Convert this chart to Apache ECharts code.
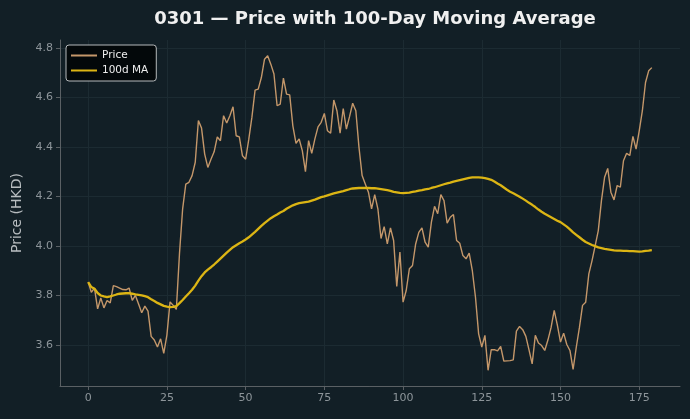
<!DOCTYPE html>
<html>
<head>
<meta charset="utf-8">
<script src="https://cdn.jsdelivr.net/npm/echarts@6/dist/echarts.min.js"></script>
<style>
  html, body { margin: 0; padding: 0; background: #121f26; }
  #chart { width: 690px; height: 419px; }
</style>
</head>
<body>
<div id="chart"></div>
<script>
// daily closes, index 0..179
var price = [
  3.854, 3.813, 3.83, 3.746, 3.79, 3.75, 3.78, 3.77, 3.84, 3.836,
  3.83, 3.824, 3.823, 3.83, 3.78, 3.80, 3.766, 3.73, 3.757, 3.737,
  3.635, 3.62, 3.592, 3.625, 3.566, 3.64, 3.774, 3.76, 3.744, 3.97,
  4.15, 4.25, 4.257, 4.284, 4.338, 4.506, 4.476, 4.371, 4.317, 4.35,
  4.38, 4.44, 4.425, 4.526, 4.496, 4.526, 4.562, 4.445, 4.44, 4.364,
  4.35, 4.43, 4.52, 4.629, 4.633, 4.68, 4.754, 4.768, 4.734, 4.694,
  4.566, 4.573, 4.678, 4.613, 4.61, 4.485, 4.414, 4.432, 4.385, 4.30,
  4.425, 4.374, 4.432, 4.481, 4.499, 4.535, 4.465, 4.455, 4.589, 4.546,
  4.455, 4.555, 4.472, 4.522, 4.576, 4.546, 4.398, 4.284, 4.25, 4.217,
  4.15, 4.207, 4.15, 4.03, 4.078, 4.008, 4.073, 4.022, 3.836, 3.975,
  3.773, 3.82, 3.908, 3.921, 4.008, 4.055, 4.073, 4.015, 3.995, 4.096,
  4.16, 4.13, 4.207, 4.183, 4.092, 4.116, 4.127, 4.022, 4.011, 3.961,
  3.948, 3.971, 3.90, 3.793, 3.645, 3.592, 3.639, 3.498, 3.581, 3.581,
  3.576, 3.594, 3.535, 3.536, 3.537, 3.54, 3.656, 3.675, 3.662, 3.635,
  3.58, 3.524, 3.639, 3.608, 3.598, 3.578, 3.62, 3.67, 3.74, 3.68,
  3.612, 3.648, 3.602, 3.578, 3.502, 3.59, 3.67, 3.76, 3.773, 3.887,
  3.94, 4.0, 4.062, 4.183, 4.277, 4.313, 4.217, 4.186, 4.244, 4.237,
  4.344, 4.374, 4.365, 4.442, 4.391, 4.465, 4.546, 4.66, 4.707, 4.72
];

// 100-day moving average as drawn
var ma100 = [
  3.854, 3.834, 3.827, 3.81, 3.80, 3.796, 3.793, 3.796, 3.800, 3.804,
  3.807, 3.808, 3.809, 3.809, 3.807, 3.804, 3.802, 3.800, 3.797, 3.793,
  3.785, 3.778, 3.770, 3.764, 3.758, 3.755, 3.753, 3.754, 3.757, 3.769,
  3.782, 3.796, 3.809, 3.823, 3.840, 3.860, 3.878, 3.893, 3.904, 3.914,
  3.925, 3.937, 3.949, 3.961, 3.973, 3.984, 3.995, 4.003, 4.011, 4.018,
  4.026, 4.035, 4.046, 4.057, 4.069, 4.081, 4.092, 4.102, 4.112, 4.120,
  4.127, 4.135, 4.141, 4.150, 4.157, 4.164, 4.169, 4.173, 4.175, 4.177,
  4.179, 4.183, 4.187, 4.192, 4.197, 4.200, 4.204, 4.208, 4.212, 4.215,
  4.218, 4.221, 4.225, 4.229, 4.232, 4.233, 4.234, 4.234, 4.234, 4.234,
  4.233, 4.233, 4.231, 4.229, 4.227, 4.225, 4.222, 4.218, 4.216, 4.214,
  4.213, 4.214, 4.215, 4.218, 4.220, 4.223, 4.225, 4.228, 4.230, 4.234,
  4.237, 4.241, 4.245, 4.249, 4.253, 4.256, 4.260, 4.263, 4.266, 4.269,
  4.272, 4.275, 4.277, 4.277, 4.277, 4.276, 4.274, 4.271, 4.267, 4.260,
  4.252, 4.245, 4.236, 4.227, 4.219, 4.213, 4.206, 4.199, 4.191, 4.183,
  4.174, 4.166, 4.157, 4.147, 4.138, 4.130, 4.123, 4.116, 4.109, 4.102,
  4.096, 4.087, 4.078, 4.067, 4.055, 4.045, 4.035, 4.025, 4.016, 4.010,
  4.004, 3.999, 3.994, 3.991, 3.988, 3.986, 3.984, 3.982, 3.981, 3.981,
  3.980, 3.980, 3.979, 3.979, 3.978, 3.977, 3.978, 3.980, 3.981, 3.983
];

var xTicks = [0, 25, 50, 75, 100, 125, 150, 175];
var yTicks = [3.6, 3.8, 4.0, 4.2, 4.4, 4.6, 4.8];

var chart = echarts.init(document.getElementById("chart"), null, { renderer: "canvas" });

var pricePts = [];
var maPts = [];
for (var i = 0; i < price.length; i++) {
  pricePts.push([i, price[i]]);
  maPts.push([i, ma100[i]]);
}

var axisGray = "#5a6064";
var labelGray = "#8d959a";
var gridColor = "#1c2b32";
var font = "DejaVu Sans";

var option = {
  backgroundColor: "#121f26",
  animation: false,
  title: {
    text: "0301 — Price with 100-Day Moving Average",
    left: 370,
    textAlign: "center",
    top: 5,
    textStyle: { color: "#f0f0f0", fontSize: 18, fontWeight: "bold", fontFamily: font },
  },
  legend: {
    orient: "vertical",
    left: 66,
    top: 45,
    padding: [5, 8, 5, 4],
    itemGap: 4,
    itemWidth: 26,
    itemHeight: 10,
    backgroundColor: "#03080a",
    borderColor: "#b5b9bb",
    borderWidth: 1,
    borderRadius: 3,
    itemStyle: { color: "rgba(0,0,0,0)", borderWidth: 0 },
    textStyle: { color: "#eeeeee", fontSize: 10.5, fontFamily: font },
    data: ["Price", "100d MA"],
  },
  grid: { left: 60, right: 10, top: 40, bottom: 33 },
  xAxis: {
    type: "value",
    min: -8.95,
    max: 187.95,
    axisLine: { show: true, onZero: false, lineStyle: { color: axisGray, width: 1 } },
    axisTick: { show: true, length: 4, lineStyle: { color: axisGray }, customValues: xTicks },
    axisLabel: { color: labelGray, fontSize: 11, fontFamily: font, margin: 7, customValues: xTicks },
    splitLine: { show: true, lineStyle: { color: gridColor, width: 1 }, customValues: xTicks },
  },
  yAxis: {
    type: "value",
    min: 3.4345,
    max: 4.8315,
    name: "Price (HKD)",
    nameLocation: "middle",
    nameGap: 35,
    nameTextStyle: { color: "#b8bdc0", fontSize: 14, fontFamily: font },
    axisLine: { show: true, onZero: false, lineStyle: { color: axisGray, width: 1 } },
    axisTick: { show: true, length: 4, lineStyle: { color: axisGray }, customValues: yTicks },
    axisLabel: {
      color: labelGray,
      fontSize: 11,
      fontFamily: font,
      margin: 7,
      customValues: yTicks,
      formatter: function (v) { return v.toFixed(1); },
    },
    splitLine: { show: true, lineStyle: { color: gridColor, width: 1 }, customValues: yTicks },
  },
  series: [
    {
      name: "Price",
      type: "line",
      data: pricePts,
      symbol: "none",
      lineStyle: { color: "#c4976a", width: 1.4 },
      itemStyle: { color: "#c4976a" },
      z: 2,
    },
    {
      name: "100d MA",
      type: "line",
      data: maPts,
      symbol: "none",
      lineStyle: { color: "#dcb514", width: 2.3 },
      itemStyle: { color: "#dcb514" },
      z: 3,
    },
  ],
};

chart.setOption(option);
</script>
</body>
</html>
